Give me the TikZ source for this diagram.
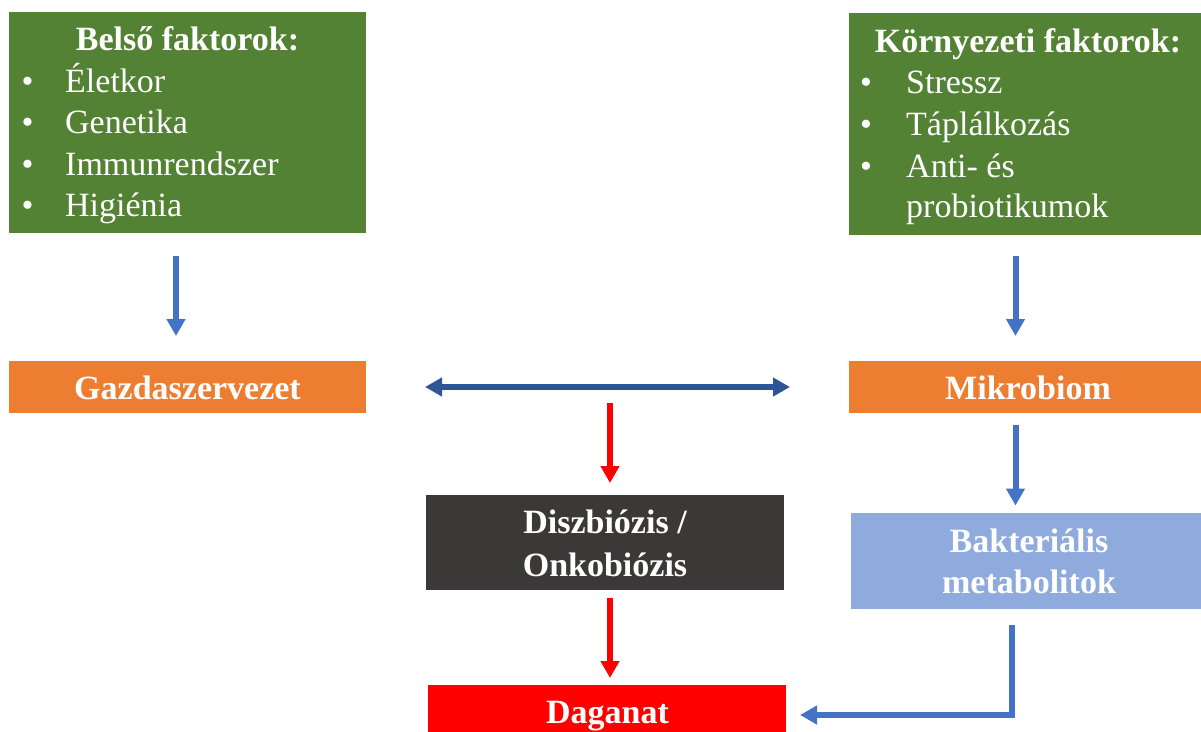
\documentclass[tikz,border=0pt]{standalone}
\usepackage{fontspec}
\setmainfont{Liberation Serif}
\usetikzlibrary{arrows.meta}
\definecolor{cgreen}{HTML}{548235}
\definecolor{corange}{HTML}{ED7D31}
\definecolor{cdark}{HTML}{3B3838}
\definecolor{cred}{HTML}{FF0000}
\definecolor{clblue}{HTML}{8FAADC}
\definecolor{cablue}{HTML}{4472C4}
\definecolor{cdblue}{HTML}{2F5597}
\begin{document}
\begin{tikzpicture}[x=1pt,y=-1pt,
  box/.style={draw=none, inner sep=0pt, outer sep=0pt, anchor=north west},
  ttl/.style={font=\fontsize{34}{41}\selectfont\bfseries, text=white, anchor=base, inner sep=0pt},
  itm/.style={font=\fontsize{34}{41}\selectfont, text=white, anchor=base west, inner sep=0pt},
  bul/.style={font=\fontsize{34}{41}\selectfont, text=white, anchor=base, inner sep=0pt},
  barrow/.style={draw=cablue, line width=6pt, -{Triangle[width=18pt,length=17pt]}},
  rarrow/.style={draw=cred, line width=6pt, -{Triangle[width=18pt,length=17pt]}},
  darrow/.style={draw=cdblue, line width=6pt, {Triangle[width=18pt,length=17pt]}-{Triangle[width=18pt,length=17pt]}}]
\useasboundingbox (0,0) rectangle (1201,731);
\clip (0,0) rectangle (1201,731);
\fill[white] (0,0) rectangle (1201,731);

% boxes
\node[box, fill=cgreen, minimum width=357pt, minimum height=221pt] (belso) at (9,12) {};
\node[box, fill=cgreen, minimum width=352pt, minimum height=222pt] (korny) at (849,13) {};
\node[box, fill=corange, minimum width=357pt, minimum height=52pt] (gazda) at (9,361) {};
\node[box, fill=corange, minimum width=352pt, minimum height=52pt] (mikro) at (849,361) {};
\node[box, fill=cdark, minimum width=358pt, minimum height=95pt] (disz) at (426,495) {};
\node[box, fill=clblue, minimum width=350pt, minimum height=96pt] (bakt) at (851,513) {};
\node[box, fill=cred, minimum width=358pt, minimum height=60pt] (dag) at (428,685) {};

% texts
\node[ttl] (belsot) at (187.5,50) {Belső faktorok:};
\node[bul] (bb1) at (27.5,92) {•};
\node[bul] (bb2) at (27.5,133.5) {•};
\node[bul] (bb3) at (27.5,175) {•};
\node[bul] (bb4) at (27.5,216.5) {•};
\node[itm] (bi1) at (65,92) {Életkor};
\node[itm] (bi2) at (65,133.5) {Genetika};
\node[itm] (bi3) at (65,175) {Immunrendszer};
\node[itm] (bi4) at (65,216.5) {Higiénia};

\node[ttl] (kornyt) at (1028,52) {Környezeti faktorok:};
\node[bul] (kb1) at (866,93) {•};
\node[bul] (kb2) at (866,135) {•};
\node[bul] (kb3) at (866,177) {•};
\node[itm] (ki1) at (906,93) {Stressz};
\node[itm] (ki2) at (906,135) {Táplálkozás};
\node[itm] (ki3) at (906,177) {Anti- és};
\node[itm] (ki4) at (906,217) {probiotikumok};

\node[ttl] (gazdat) at (187.5,399) {Gazdaszervezet};
\node[ttl] (mikrot) at (1028,399) {Mikrobiom};
\node[ttl] (disz1) at (605,533) {Diszbiózis /};
\node[ttl] (disz2) at (605,576) {Onkobiózis};
\node[ttl] (bakt1) at (1029,552) {Bakteriális};
\node[ttl] (bakt2) at (1029,593) {metabolitok};
\node[ttl] (dagt) at (607.5,723) {Daganat};

% connectors
\coordinate (mid) at (610,387);
\draw[barrow, shorten <=23pt, shorten >=25pt] ([xshift=-11.5pt]belso.south) -- ([xshift=-11.5pt]gazda.north);
\draw[barrow, shorten <=21pt, shorten >=25pt] ([xshift=-9.5pt]korny.south) -- ([xshift=-9.5pt]mikro.north);
\draw[barrow, shorten <=12pt, shorten >=7.5pt] ([xshift=-9.5pt]mikro.south) -- ([xshift=-10.5pt]bakt.north);
\draw[darrow, shorten <=59pt, shorten >=59pt] (gazda.east) -- (mikro.west);
\draw[rarrow, shorten <=16pt, shorten >=12pt] (mid) -- ([xshift=5pt]disz.north);
\draw[rarrow, shorten <=8pt, shorten >=7pt] ([xshift=5pt]disz.south) -- ([xshift=3pt]dag.north);
\draw[barrow, shorten <=16pt, shorten >=14pt] ([xshift=-14pt]bakt.south) |- (dag.east);
\end{tikzpicture}
\end{document}
